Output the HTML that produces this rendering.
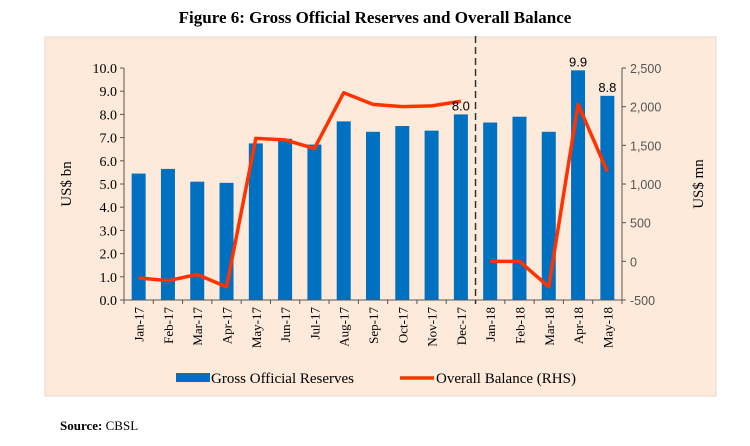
<!DOCTYPE html>
<html><head><meta charset="utf-8"><style>
body{margin:0;width:750px;height:446px;background:#fff;overflow:hidden}
svg{display:block}
.serif{font-family:"Liberation Serif",serif}
.sans{font-family:"Liberation Sans",sans-serif}
</style></head><body>
<svg id="c" width="750" height="446">
<rect x="45" y="37" width="671" height="359" fill="#fdeadb" stroke="#e6dad0"/>
<text x="375" y="23" text-anchor="middle" class="serif" font-size="17" font-weight="bold">Figure 6: Gross Official Reserves and Overall Balance</text>
<text x="60" y="430" class="serif" font-size="13"><tspan font-weight="bold">Source:</tspan> CBSL</text>
<g id="g"></g>
</svg>
<script>
const categories=["Jan-17","Feb-17","Mar-17","Apr-17","May-17","Jun-17","Jul-17","Aug-17","Sep-17","Oct-17","Nov-17","Dec-17","Jan-18","Feb-18","Mar-18","Apr-18","May-18"];
const reserves=[5.45,5.65,5.1,5.05,6.75,6.95,6.7,7.7,7.25,7.5,7.3,8.0,7.65,7.9,7.25,9.9,8.8];
const balance=[-215,-250,-170,-330,1590,1570,1460,2180,2030,2000,2010,2070,0,0,-330,2030,1160];
const balSegments=[[0,11],[12,16]];
const leftTicks=[0,1,2,3,4,5,6,7,8,9,10];
const rightTicks=[-500,0,500,1000,1500,2000,2500];
const labelIdx=[11,15,16];
const NS="http://www.w3.org/2000/svg";
const g=document.getElementById('g');
const x0=124,x1=622,yT=68,yB=300;
const bw=(x1-x0)/categories.length;
const xc=i=>x0+bw*(i+0.5);
const yL=v=>yB-(v/10)*(yB-yT);
const yR=v=>yB-((v+500)/3000)*(yB-yT);
function el(t,a,txt){const e=document.createElementNS(NS,t);for(const k in a)e.setAttribute(k,a[k]);if(txt!=null)e.textContent=txt;g.appendChild(e);return e;}
reserves.forEach((v,i)=>{
 const r=el('rect',{x:xc(i)-7,y:yL(v),width:14,height:yB-yL(v),fill:'#0070c0'});
 
 
});
const ax=el('path',{d:`M${x0} ${yT}V${yB}H${x1}M${x1} ${yT}V${yB}`,stroke:'#555',fill:'none','stroke-width':1});


leftTicks.forEach(t=>{
 el('line',{x1:x0-4,x2:x0,y1:yL(t),y2:yL(t),stroke:'#555'});
 const tx=el('text',{x:x0-7,y:yL(t)+5,'text-anchor':'end',class:'serif','font-size':14},t.toFixed(1));
 
 
});
rightTicks.forEach(t=>{
 el('line',{x1:x1,x2:x1+4,y1:yR(t),y2:yR(t),stroke:'#555'});
 const tx=el('text',{x:x1+8,y:yR(t)+5,class:'sans','font-size':12.5,fill:'#555'},t.toLocaleString('en-US'));
 
 
});
categories.forEach((c,i)=>{
 el('line',{x1:x0+bw*i,x2:x0+bw*i,y1:yB,y2:yB+4,stroke:'#555'});
 const tx=el('text',{x:0,y:0,transform:`translate(${xc(i)+5},${yB+7}) rotate(-90)`,'text-anchor':'end',class:'serif','font-size':13},c);
 
 
});
el('line',{x1:x1,x2:x1,y1:yB,y2:yB+4,stroke:'#555'});
const dv=el('line',{x1:x0+bw*12,x2:x0+bw*12,y1:36,y2:yB+4,stroke:'#333','stroke-width':1.5,'stroke-dasharray':'7,4'});


balSegments.forEach(([a,b])=>{
 let d='';for(let i=a;i<=b;i++)d+=(i===a?'M':'L')+xc(i)+' '+yR(balance[i]);
 const p=el('path',{d:d,stroke:'#ff3300',fill:'none','stroke-width':3.5,'stroke-linejoin':'round'});
 
 
});
labelIdx.forEach(i=>{
 const tx=el('text',{x:xc(i),y:yL(reserves[i])-4,'text-anchor':'middle',class:'sans','font-size':13},reserves[i].toFixed(1));
 
 
});
const lt=el('text',{transform:'translate(71,184) rotate(-90)','text-anchor':'middle',class:'serif','font-size':15},'US$ bn');


const rt=el('text',{transform:'translate(703,184) rotate(-90)','text-anchor':'middle',class:'serif','font-size':15},'US$ mn');


const l1=el('rect',{x:176,y:373,width:34,height:9,fill:'#0070c0'});


const l1t=el('text',{x:211,y:383,class:'serif','font-size':15},'Gross Official Reserves');


const l2=el('line',{x1:400,x2:434,y1:378,y2:378,stroke:'#ff3300','stroke-width':3.5});


const l2t=el('text',{x:436,y:383,class:'serif','font-size':15},'Overall Balance (RHS)');


</script>
</body></html>
